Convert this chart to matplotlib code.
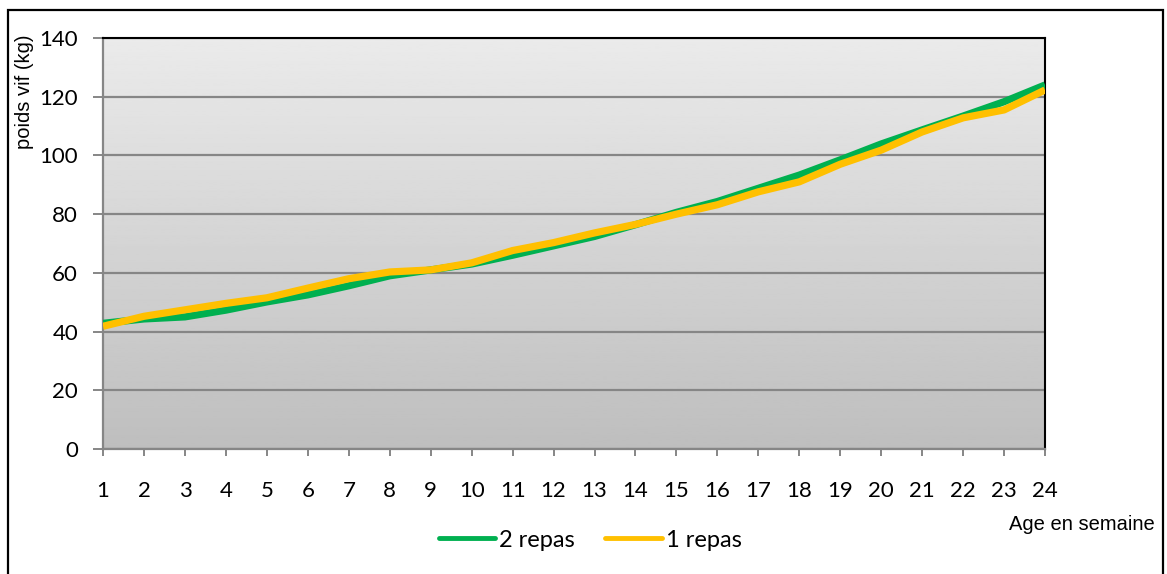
# weekly live weight, one meal vs two meals a day

import numpy as np
import matplotlib.pyplot as plt
from matplotlib.patches import Rectangle

weeks = list(range(1, 25))
deux_repas = [42.8, 44.3, 45.0, 47.3, 50.1, 52.5, 55.6, 59.0, 61.0, 63.0,
              66.0, 69.2, 72.4, 76.4, 80.6, 84.3, 88.8, 93.3, 98.5, 103.9,
              108.7, 113.4, 118.3, 124.0]
un_repas = [41.8, 45.2, 47.4, 49.6, 51.5, 54.8, 58.0, 60.3, 61.0, 63.4,
            67.6, 70.3, 73.6, 76.5, 80.0, 83.2, 87.6, 91.0, 97.0, 101.8,
            108.0, 112.8, 115.5, 122.3]
yticks = [0, 20, 40, 60, 80, 100, 120, 140]

tick_font = 'Lato'
label_font = 'Liberation Sans'
grid_col = '#868686'

fig = plt.figure(figsize=(11.67, 5.74), dpi=100)
ax = fig.add_axes([0.0883, 0.2178, 0.8072, 0.716])

# vertical grey gradient behind the plot, light at the top
grad = np.linspace(0.92, 0.745, 256).reshape(-1, 1)
ax.imshow(grad, cmap='gray', vmin=0, vmax=1, aspect='auto',
          extent=[0, 1, 0, 1], transform=ax.transAxes, zorder=0)

ax.plot(weeks, deux_repas, color='#00B050', lw=5.2, solid_capstyle='butt',
        label='2 repas', zorder=3)
ax.plot(weeks, un_repas, color='#FFC000', lw=5.2, solid_capstyle='butt',
        label='1 repas', zorder=4)

ax.set_xlim(1, 24)
ax.set_ylim(0, 140)
ax.set_xticks(weeks)
ax.set_yticks(yticks)
ax.yaxis.grid(True, color=grid_col, lw=1.6, zorder=1)
ax.set_axisbelow(True)

for s in ['top', 'right']:
    ax.spines[s].set_color('black')
    ax.spines[s].set_linewidth(1.5)
for s in ['left', 'bottom']:
    ax.spines[s].set_color(grid_col)
    ax.spines[s].set_linewidth(1.6)

ax.tick_params(axis='x', length=5, width=1.4, color=grid_col, pad=18)
ax.tick_params(axis='y', length=7, width=1.4, color=grid_col, pad=11)
for lab in ax.get_xticklabels() + ax.get_yticklabels():
    lab.set_fontfamily(tick_font)
    lab.set_fontsize(16)

fig.text(25 / 1167, 0.841, 'poids vif (kg)', rotation=90, ha='center',
         va='center', fontsize=14.5, family=label_font)
fig.text(1155 / 1167, 1 - 525 / 574, 'Age en semaine', ha='right',
         va='center', fontsize=14.5, family=label_font)

leg = fig.legend(loc='center', bbox_to_anchor=(0.5056, 0.059), ncol=2,
                 frameon=False, handlelength=2.4, handletextpad=0.15,
                 columnspacing=1.3, prop={'family': tick_font, 'size': 17})
for h in leg.get_lines():
    h.set_linewidth(3.5)
    h.set_solid_capstyle('round')

# outer frame of the chart
fig.patches.append(Rectangle((8 / 1167, -0.02), 1155 / 1167, 0.9826 + 0.02,
                             transform=fig.transFigure, fill=False,
                             edgecolor='black', lw=1.6))

fig.savefig('out.png', dpi=100)
